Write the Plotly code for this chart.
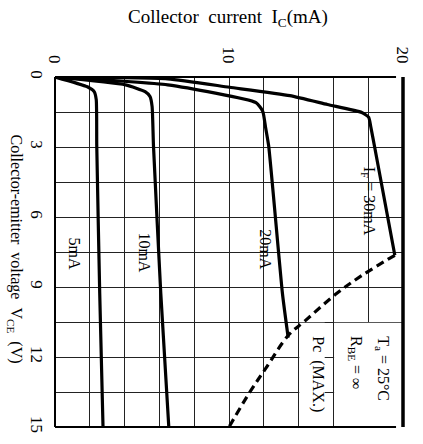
import plotly.graph_objects as go

# Data (Ic in mA, VCE in V)
vce_5 = [0, 0.42, 0.63, 0.97, 2.95, 9.27, 15.0]
ic_5 = [0, 1.86, 2.25, 2.37, 2.40, 2.57, 2.76]

vce_10 = [0, 0.34, 0.63, 0.84, 1.26, 2.95, 9.27, 15.0]
ic_10 = [0, 4.06, 5.18, 5.46, 5.58, 5.66, 6.08, 6.54]

vce_20 = [0, 0.34, 1.10, 1.47, 2.15, 2.95, 9.27, 11.17]
ic_20 = [0, 6.48, 11.55, 11.94, 12.10, 12.28, 13.07, 13.40]

vce_30 = [0, 0.08, 0.44, 0.80, 1.18, 1.52, 1.73, 2.10, 3.0, 7.64]
ic_30 = [0, 6.48, 10.03, 13.5, 15.66, 17.63, 18.03, 18.14, 18.37, 19.53]

vce_pc = [7.64, 8.5, 9.27, 10.45, 11.08, 12.5, 13.5, 15.0]
ic_pc = [19.53, 17.65, 16.2, 14.37, 13.4, 12.1, 11.2, 10.0]

x_ticks = [0, 2, 4, 6, 8, 10, 12, 14, 16, 18, 20]
x_labels = ["0", "", "", "", "", "10", "", "", "", "", "20"]
y_ticks = [0, 1.5, 3, 4.5, 6, 7.5, 9, 10.5, 12, 13.5, 15]
y_labels = ["0", "", "3", "", "6", "", "9", "", "12", "", "15"]

FONT = "Liberation Serif"
fig = go.Figure()

curve = dict(color="black", width=3.2)
for ic, v in [(ic_5, vce_5), (ic_10, vce_10), (ic_20, vce_20), (ic_30, vce_30)]:
    fig.add_trace(go.Scatter(x=ic, y=v, mode="lines", line=dict(**curve, shape="spline", smoothing=0.5),
                             showlegend=False, hoverinfo="skip"))
fig.add_trace(go.Scatter(x=ic_pc, y=vce_pc, mode="lines",
                         line=dict(color="black", width=3.2, dash="8px,5px", shape="spline"),
                         showlegend=False, hoverinfo="skip"))

grid = dict(showgrid=True, gridcolor="#222", gridwidth=1, zeroline=False, ticks="",
            showline=False, tickfont=dict(family=FONT, size=17, color="black"), tickangle=90)
fig.update_xaxes(range=[0, 20], tickmode="array", tickvals=x_ticks, ticktext=x_labels,
                 side="top", ticklabelstandoff=10, **grid)
fig.update_yaxes(range=[15, 0], tickmode="array", tickvals=y_ticks, ticktext=y_labels,
                 ticklabelstandoff=6, **grid)

shapes = [
    # white boxes hiding grid behind text
    dict(type="rect", xref="x", yref="y", x0=14.04, x1=15.5, y0=10.53, y1=15,
         fillcolor="white", line=dict(width=0), layer="between"),
    dict(type="rect", xref="x", yref="y", x0=16.04, x1=20, y0=10.53, y1=15,
         fillcolor="white", line=dict(width=0), layer="between"),
    # frame
    dict(type="line", xref="paper", yref="paper", x0=0, x1=0, y0=0, y1=1, line=dict(color="black", width=2)),
    dict(type="line", xref="paper", yref="paper", x0=0, x1=0.98, y0=1, y1=1, line=dict(color="black", width=2)),
    dict(type="line", xref="paper", yref="paper", x0=0, x1=0.98, y0=0, y1=0, line=dict(color="black", width=2)),
    dict(type="line", xref="paper", yref="paper", x0=1, x1=1, y0=0, y1=1, line=dict(color="black", width=3.5)),
]

ann_font = dict(family=FONT, size=16, color="black")
annotations = [
    dict(x=18.0, y=5.31, text="I<sub>F</sub>\u00a0=\u00a030mA"),
    dict(x=12.05, y=7.37, text="20mA"),
    dict(x=5.15, y=7.5, text="10mA"),
    dict(x=1.12, y=7.59, text="5mA"),
    dict(x=15.1, y=12.73, text="Pc\u00a0\u00a0(MAX.)"),
    dict(x=18.85, y=12.52, text="T<sub>a</sub>\u00a0=\u00a025\u00b0C"),
    dict(x=17.3, y=12.22, text="R<sub>BE</sub>\u00a0=\u00a0\u221e"),
]
for a in annotations:
    a.update(xref="x", yref="y", showarrow=False, textangle=90, font=ann_font)

annotations.append(dict(xref="paper", yref="paper", x=0.497, y=1, yshift=59, xanchor="center",
                        yanchor="middle", showarrow=False,
                        text="Collector\u00a0\u00a0current\u00a0\u00a0I<sub>C</sub>(mA)",
                        font=dict(family=FONT, size=19, color="black")))
annotations.append(dict(xref="paper", yref="paper", x=0, xshift=-40, y=0.51, xanchor="center",
                        yanchor="middle", showarrow=False, textangle=90,
                        text="Collector-emitter\u00a0\u00a0voltage\u00a0\u00a0V<sub>CE</sub>\u00a0\u00a0(V)",
                        font=dict(family=FONT, size=16, color="black")))

fig.update_layout(width=423, height=444, margin=dict(l=55, r=13, t=77, b=11),
                  paper_bgcolor="white", plot_bgcolor="white",
                  shapes=shapes, annotations=annotations, showlegend=False)

fig.write_html("out.html")
